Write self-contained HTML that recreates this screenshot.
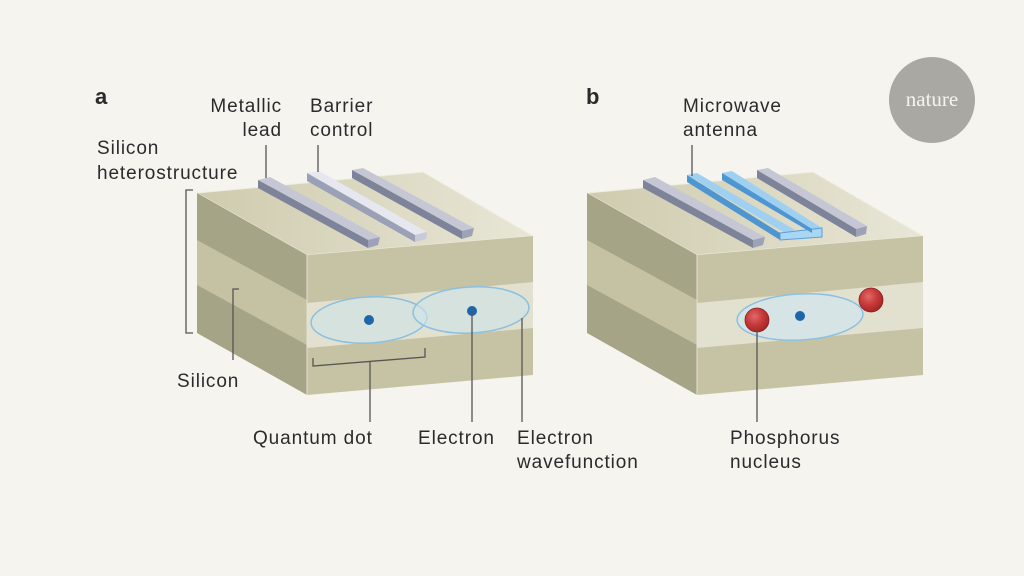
<!DOCTYPE html>
<html><head><meta charset="utf-8"><style>
html,body{margin:0;padding:0;background:#f5f4ee;}
svg{display:block}
text{font-family:"Liberation Sans",sans-serif;font-size:19px;letter-spacing:0.9px;fill:#2b2b2b}
</style></head><body>
<svg width="1024" height="576" viewBox="0 0 1024 576" xmlns="http://www.w3.org/2000/svg">
<rect width="1024" height="576" fill="#f5f4ee"/>
<defs>
<linearGradient id="top" x1="0" y1="0" x2="1" y2="0"><stop offset="0" stop-color="#cfcbae"/><stop offset="1" stop-color="#e8e6d6"/></linearGradient>
<radialGradient id="red" cx="0.4" cy="0.35" r="0.7"><stop offset="0" stop-color="#e06a6a"/><stop offset="0.5" stop-color="#c83a3a"/><stop offset="1" stop-color="#9e2424"/></radialGradient>
<g id="block">
<polygon points="197,193 423,172 533,236 307,255" fill="url(#top)" stroke="#f0eee0" stroke-width="1"/>
<polygon points="197,193 307,255 307,395 197,333" fill="#a6a486"/>
<polygon points="197,240 307,300 307,345 197,285" fill="#c5c2a4"/>
<polygon points="307,255 533,236 533,375 307,395" fill="#c6c3a5"/>
<polygon points="307,303 533,282 533,328 307,348" fill="#e2e0ce"/>
<line x1="307" y1="255" x2="307" y2="395" stroke="#e4e2d4" stroke-width="1"/>
</g>
</defs>
<use href="#block"/>
<use href="#block" x="390"/>

<g>
<polygon points="258,180 270,177 380,237 368,240" fill="#c5c7d4"/>
<polygon points="258,180 368,240 368,248 258,188" fill="#7d8398"/>
<polygon points="368,240 380,237 378,245 368,248" fill="#9da2b6"/>
<polygon points="307,173 319,171 427,232 415,235" fill="#e6e7ef"/>
<polygon points="307,173 415,235 415,242 307,181" fill="#9aa0b6"/>
<polygon points="415,235 427,232 426,239 415,242" fill="#c8cad8"/>
<polygon points="352,170 363,168 474,228 462,231" fill="#c5c7d4"/>
<polygon points="352,170 462,231 462,239 352,178" fill="#7d8398"/>
<polygon points="462,231 474,228 472,236 462,239" fill="#9da2b6"/>
</g>
<g>
<polygon points="643,180 655,177 765,237 753,240" fill="#c5c7d4"/>
<polygon points="643,180 753,240 753,248 643,188" fill="#7d8398"/>
<polygon points="753,240 765,237 763,245 753,248" fill="#9da2b6"/>
<polygon points="687,175 697,173 795,230 785,233" fill="#9fd0f2"/>
<polygon points="722,173 732,171 822,228 812,231" fill="#9fd0f2"/>
<polygon points="780,233 822,228 822,237 780,240" fill="#a8d6f5" stroke="#5aa0d8" stroke-width="1"/>
<polygon points="687,175 780,233 780,240 687,182" fill="#4f96d0"/>
<polygon points="722,173 812,229 812,233 722,180" fill="#4f96d0"/>
<polygon points="757,170 768,168 867,226 856,229" fill="#c5c7d4"/>
<polygon points="757,170 856,229 856,237 757,178" fill="#7d8398"/>
<polygon points="856,229 867,226 866,234 856,237" fill="#9da2b6"/>
</g>

<ellipse cx="369" cy="320" rx="58" ry="23" transform="rotate(-3 369 320)" fill="#cfe3ea" fill-opacity="0.6" stroke="#8cc0e0" stroke-width="1.5"/>
<ellipse cx="471" cy="310" rx="58" ry="23" transform="rotate(-3 471 310)" fill="#cfe3ea" fill-opacity="0.6" stroke="#8cc0e0" stroke-width="1.5"/>
<circle cx="369" cy="320" r="5" fill="#1f66a8"/>
<circle cx="472" cy="311" r="5" fill="#1f66a8"/>
<ellipse cx="800" cy="317" rx="63" ry="23" transform="rotate(-3 800 317)" fill="#d6e4e6" stroke="#8cc0e0" stroke-width="1.5"/>
<circle cx="800" cy="316" r="5" fill="#1f66a8"/>
<circle cx="757" cy="320" r="12" fill="url(#red)" stroke="#8a2020" stroke-width="0.8"/>
<circle cx="871" cy="300" r="12" fill="url(#red)" stroke="#8a2020" stroke-width="0.8"/>

<g stroke="#555" stroke-width="1.3" fill="none">
<line x1="266" y1="145" x2="266" y2="178"/>
<line x1="318" y1="145" x2="318" y2="172"/>
<polyline points="193,190 186,190 186,333 193,333"/>
<polyline points="239,289 233,289 233,360"/>
<polyline points="313,358 313,366 425,357 425,348"/>
<line x1="370" y1="362" x2="370" y2="422"/>
<line x1="472" y1="311" x2="472" y2="422"/>
<line x1="522" y1="318" x2="522" y2="422"/>
<line x1="692" y1="145" x2="692" y2="176"/>
<line x1="757" y1="330" x2="757" y2="422"/>
</g>

<text x="95" y="104" style="font-weight:bold;font-size:22px;letter-spacing:0">a</text>
<text x="586" y="104" style="font-weight:bold;font-size:22px;letter-spacing:0">b</text>
<text x="282" y="112" text-anchor="end">Metallic</text>
<text x="282" y="136" text-anchor="end">lead</text>
<text x="310" y="112">Barrier</text>
<text x="310" y="136">control</text>
<text x="97" y="154">Silicon</text>
<text x="97" y="179">heterostructure</text>
<text x="177" y="387">Silicon</text>
<text x="253" y="444">Quantum dot</text>
<text x="418" y="444">Electron</text>
<text x="517" y="444">Electron</text>
<text x="517" y="468">wavefunction</text>
<text x="683" y="112">Microwave</text>
<text x="683" y="136">antenna</text>
<text x="730" y="444">Phosphorus</text>
<text x="730" y="468">nucleus</text>

<circle cx="932" cy="100" r="43" fill="#a9a8a3"/>
<text x="932" y="106" text-anchor="middle" style="font-family:'Liberation Serif',serif;font-size:21px;letter-spacing:0;fill:#f5f4ee">nature</text>
</svg>
</body></html>
